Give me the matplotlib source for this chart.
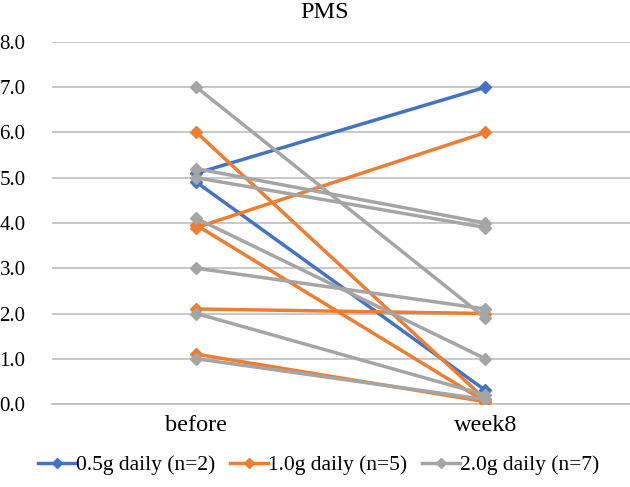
import numpy as np
import matplotlib.pyplot as plt
from matplotlib.lines import Line2D

# Categorías y valores por sujeto (before, week8)
categorias = ["before", "week8"]

dosis_05_before = [5.1, 4.9]
dosis_05_week8 = [7.0, 0.3]

dosis_10_before = [6.0, 3.9, 3.95, 2.1, 1.1]
dosis_10_week8 = [0.1, 6.0, 0.05, 2.0, 0.05]

dosis_20_before = [7.0, 5.2, 5.0, 4.1, 3.0, 2.0, 1.0]
dosis_20_week8 = [1.9, 4.0, 3.9, 1.0, 2.1, 0.2, 0.1]

etiquetas = ["0.5g daily (n=2)", "1.0g daily (n=5)", "2.0g daily (n=7)"]
colores = ["#4472C4", "#ED7D31", "#A5A5A5"]

plt.rcParams['font.family'] = ['Liberation Serif', 'DejaVu Serif']

fig = plt.figure(figsize=(6.30, 4.87), dpi=100)
ax = fig.add_axes([0.0825, 0.1704, 0.9175, 0.7434])

x = np.arange(len(categorias))
grupos = [(dosis_05_before, dosis_05_week8),
          (dosis_10_before, dosis_10_week8),
          (dosis_20_before, dosis_20_week8)]

for (antes, despues), color in zip(grupos, colores):
    for b, w in zip(antes, despues):
        ax.plot(x, [b, w], color=color, linewidth=2.5, marker='D',
                markersize=6, zorder=3)

ax.set_xlim(-0.5, 1.5)
ax.set_ylim(0, 8)
ax.set_yticks(np.arange(0, 9, 1))
ax.set_yticklabels([f"{v:.1f}" for v in np.arange(0, 9, 1)], fontsize=15)
ax.set_xticks(x)
ax.set_xticklabels(categorias, fontsize=17.5)
ax.tick_params(axis='both', length=0)
ax.tick_params(axis='y', pad=19)
ax.tick_params(axis='x', pad=8)
ax.grid(axis='y', color='#BFBFBF', linewidth=1.2)
for lado in ['top', 'right', 'left']:
    ax.spines[lado].set_visible(False)
ax.spines['bottom'].set_color('#BFBFBF')
ax.spines['bottom'].set_linewidth(1.2)

# Título centrado en la figura
fig.text(0.516, 0.974, "PMS", ha='center', va='center', fontsize=17.5)

manejadores = [Line2D([0], [0], color=c, linewidth=2.5, marker='D',
                      markersize=5, markevery=[0, 1]) for c in colores]
fig.legend(manejadores, etiquetas, loc='center', bbox_to_anchor=(0.5056, 0.045),
           ncol=3, frameon=False, fontsize=15.5, handlelength=1.75,
           handletextpad=0.0, columnspacing=0.7, borderpad=0, borderaxespad=0)

fig.savefig("out.png", dpi=100)
